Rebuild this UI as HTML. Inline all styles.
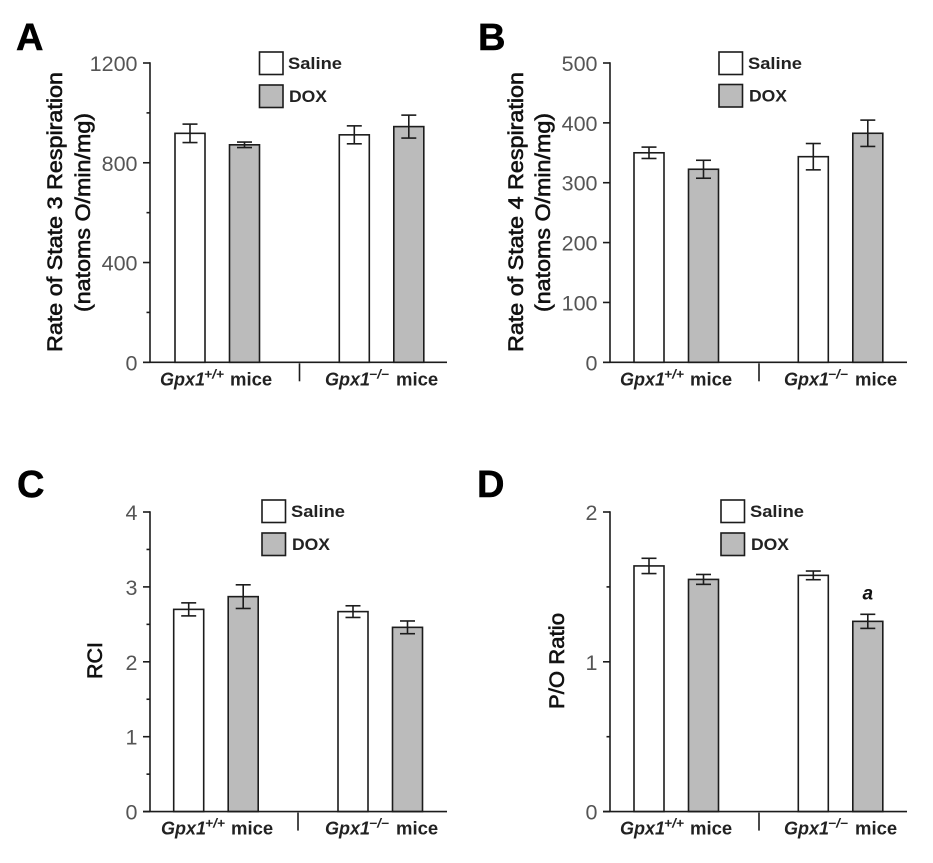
<!DOCTYPE html>
<html lang="en">
<head>
<meta charset="utf-8">
<title>Mitochondrial respiration in Gpx1 mice</title>
<style>
html,body{margin:0;padding:0;background:#fff;width:933px;height:863px;overflow:hidden}
svg{display:block;filter:blur(0.35px)}
text{font-family:"Liberation Sans",sans-serif}
</style>
</head>
<body>
<svg id="figure" xmlns="http://www.w3.org/2000/svg" width="933" height="863" viewBox="0 0 933 863"></svg>
<script>
// Chart data: order is Gpx1+/+ Saline, Gpx1+/+ DOX, Gpx1-/- Saline, Gpx1-/- DOX
const seriesNames = ['saline', 'dox', 'saline', 'dox'];
const stateThreeValues = [918, 872, 912, 945];
const stateThreeErrors = [37, 11, 36, 46];
const stateThreeTicks = [0, 400, 800, 1200];
const stateThreeMinorTicks = [200, 600, 1000];
const stateFourValues = [350, 322.5, 343.5, 382.6];
const stateFourErrors = [9.5, 15, 22, 22];
const stateFourTicks = [0, 100, 200, 300, 400, 500];
const stateFourMinorTicks = [];
const rciValues = [2.70, 2.87, 2.67, 2.46];
const rciErrors = [0.087, 0.158, 0.078, 0.085];
const rciTicks = [0, 1, 2, 3, 4];
const rciMinorTicks = [0.5, 1.5, 2.5, 3.5];
const poValues = [1.64, 1.55, 1.577, 1.27];
const poErrors = [0.051, 0.033, 0.029, 0.047];
const poTicks = [0, 1, 2];
const poMinorTicks = [0.5, 1.5];

const NS = 'http://www.w3.org/2000/svg';
const root = document.getElementById('figure');
const INK = '#1c1c1c';

function mk(tag, attrs, parent, name) {
  const el = document.createElementNS(NS, tag);
  for (const k in attrs) el.setAttribute(k, attrs[k]);
  
  
  (parent || root).appendChild(el);
  return el;
}
function line(x1, y1, x2, y2, parent, name, w) {
  return mk('line', {x1, y1, x2, y2, stroke: INK, 'stroke-width': w || 1.6}, parent, name);
}
function label(str, attrs, parent, name) {
  const t = mk('text', attrs, parent, name);
  t.textContent = str;
  return t;
}

const panels = [
  {id:'a', letter:'A', lx:16, ly:50, axisX:150, top:63, bottom:362.3, max:1200, barX:175,
   values:stateThreeValues, errors:stateThreeErrors, ticks:stateThreeTicks, minor:stateThreeMinorTicks,
   titles:[['Rate of State 3 Respiration',62,212,280],['(natoms O/min/mg)',90,212.5,199]],
   legendX:259.5, legendTop:52, legendGap:33, textX:288,
   labelX:[160,325], miceX:[230,396], divider:299.5},
  {id:'b', letter:'B', lx:478, ly:50, axisX:610, top:63, bottom:362.3, max:500, barX:634,
   values:stateFourValues, errors:stateFourErrors, ticks:stateFourTicks, minor:stateFourMinorTicks,
   titles:[['Rate of State 4 Respiration',523,212,280],['(natoms O/min/mg)',550,212.5,199]],
   legendX:719, legendTop:52, legendGap:32.5, textX:748,
   labelX:[620,784], miceX:[690,855], divider:759},
  {id:'c', letter:'C', lx:17, ly:497, axisX:150, top:512, bottom:811.6, max:4, barX:173.7,
   values:rciValues, errors:rciErrors, ticks:rciTicks, minor:rciMinorTicks,
   titles:[['RCI',102,660.5,37]],
   legendX:262, legendTop:500, legendGap:33, textX:291,
   labelX:[161,325], miceX:[231,396], divider:298},
  {id:'d', letter:'D', lx:477, ly:497, axisX:610, top:512, bottom:811.6, max:2, barX:634,
   values:poValues, errors:poErrors, ticks:poTicks, minor:poMinorTicks,
   titles:[['P/O Ratio',564,661,96]],
   legendX:721, legendTop:500, legendGap:33, textX:750,
   labelX:[620,784], miceX:[690,855], divider:759}
];

function drawPanel(p) {
  const g = mk('g', {}, root, 'panel-' + p.id);
  const y = v => p.bottom - (v / p.max) * (p.bottom - p.top);
  const x = i => p.barX + Math.floor(i / 2) * 164.3 + (i % 2) * 54.5;
  const BAR_W = 30;

  const letter = label(p.letter, {x:p.lx, y:p.ly, 'font-size':38, 'font-weight':'bold', fill:'#000'}, g, 'panel-letter');
  letter.setAttribute('stroke', '#000');
  letter.setAttribute('stroke-width', '0.5');

  p.titles.forEach(t => {
    label(t[0], {
      x:0, y:0, transform:'translate(' + t[1] + ',' + t[2] + ') rotate(-90)',
      'text-anchor':'middle', 'font-size':21, fill:'#111', stroke:'#111', 'stroke-width':0.6,
      textLength:t[3], lengthAdjust:'spacingAndGlyphs'
    }, g, 'y-axis-title');
  });

  p.values.forEach((v, i) => {
    const isDox = seriesNames[i] === 'dox';
    mk('rect', {x:x(i), y:y(v), width:BAR_W, height:p.bottom - y(v),
      fill:isDox ? '#bbbbbb' : '#ffffff', stroke:INK, 'stroke-width':1.6}, g, 'bar-' + seriesNames[i]);
    const cx = x(i) + BAR_W / 2, hi = y(v + p.errors[i]), lo = y(v - p.errors[i]);
    line(cx, hi, cx, lo, g, 'error-bar-stem');
    line(cx - 7.5, hi, cx + 7.5, hi, g, 'error-bar-cap');
    line(cx - 7.5, lo, cx + 7.5, lo, g, 'error-bar-cap');
  });

  line(p.axisX, p.top - 0.8, p.axisX, p.bottom, g, 'y-axis-line');
  line(p.axisX - 7, p.bottom, p.axisX + 297, p.bottom, g, 'x-axis-line');

  p.ticks.forEach(t => {
    line(p.axisX - 7, y(t), p.axisX, y(t), g, 'y-major-tick');
    label(String(t), {x:p.axisX - 12.5, y:y(t) + 8, 'text-anchor':'end', 'font-size':21.5, fill:'#555'}, g, 'y-tick-label');
  });
  p.minor.forEach(t => line(p.axisX - 3.5, y(t), p.axisX, y(t), g, 'y-minor-tick'));

  line(p.divider, p.bottom + 1, p.divider, p.bottom + 19, g, 'group-divider');

  ['+/+', '\u2212/\u2212'].forEach((sup, i) => {
    const by = p.bottom + 23;
    label('Gpx1', {x:p.labelX[i], y:by, 'font-size':18, 'font-style':'italic', 'font-weight':'bold', fill:'#222'}, g, 'x-group-gene-label');
    label(sup, {x:p.labelX[i] + 44, y:by - 7, 'font-size':12.5, 'font-style':'italic', 'font-weight':'bold', fill:'#222', textLength:20, lengthAdjust:'spacingAndGlyphs'}, g, 'x-group-genotype');
    label('mice', {x:p.miceX[i], y:by, 'font-size':18.5, 'font-weight':'bold', fill:'#222'}, g, 'x-group-mice-label');
  });

  mk('rect', {x:p.legendX, y:p.legendTop, width:23.5, height:22.5, fill:'#fff', stroke:INK, 'stroke-width':1.6}, g, 'legend-swatch-saline');
  mk('rect', {x:p.legendX, y:p.legendTop + p.legendGap, width:23.5, height:22.5, fill:'#bbbbbb', stroke:INK, 'stroke-width':1.6}, g, 'legend-swatch-dox');
  label('Saline', {x:p.textX, y:p.legendTop + 17, 'font-size':17, 'font-weight':'bold', fill:'#222', textLength:54, lengthAdjust:'spacingAndGlyphs'}, g, 'legend-label-saline');
  label('DOX', {x:p.textX + 1, y:p.legendTop + p.legendGap + 17, 'font-size':17, 'font-weight':'bold', fill:'#222', textLength:38, lengthAdjust:'spacingAndGlyphs'}, g, 'legend-label-dox');

  if (p.id === 'd') {
    const sx = x(3) + BAR_W / 2;
    label('a', {x:sx, y:y(p.values[3] + p.errors[3]) - 15, 'text-anchor':'middle', 'font-size':19, 'font-style':'italic', 'font-weight':'bold', fill:'#111'}, g, 'significance-marker');
  }
}
panels.forEach(drawPanel);
</script>
</body>
</html>
